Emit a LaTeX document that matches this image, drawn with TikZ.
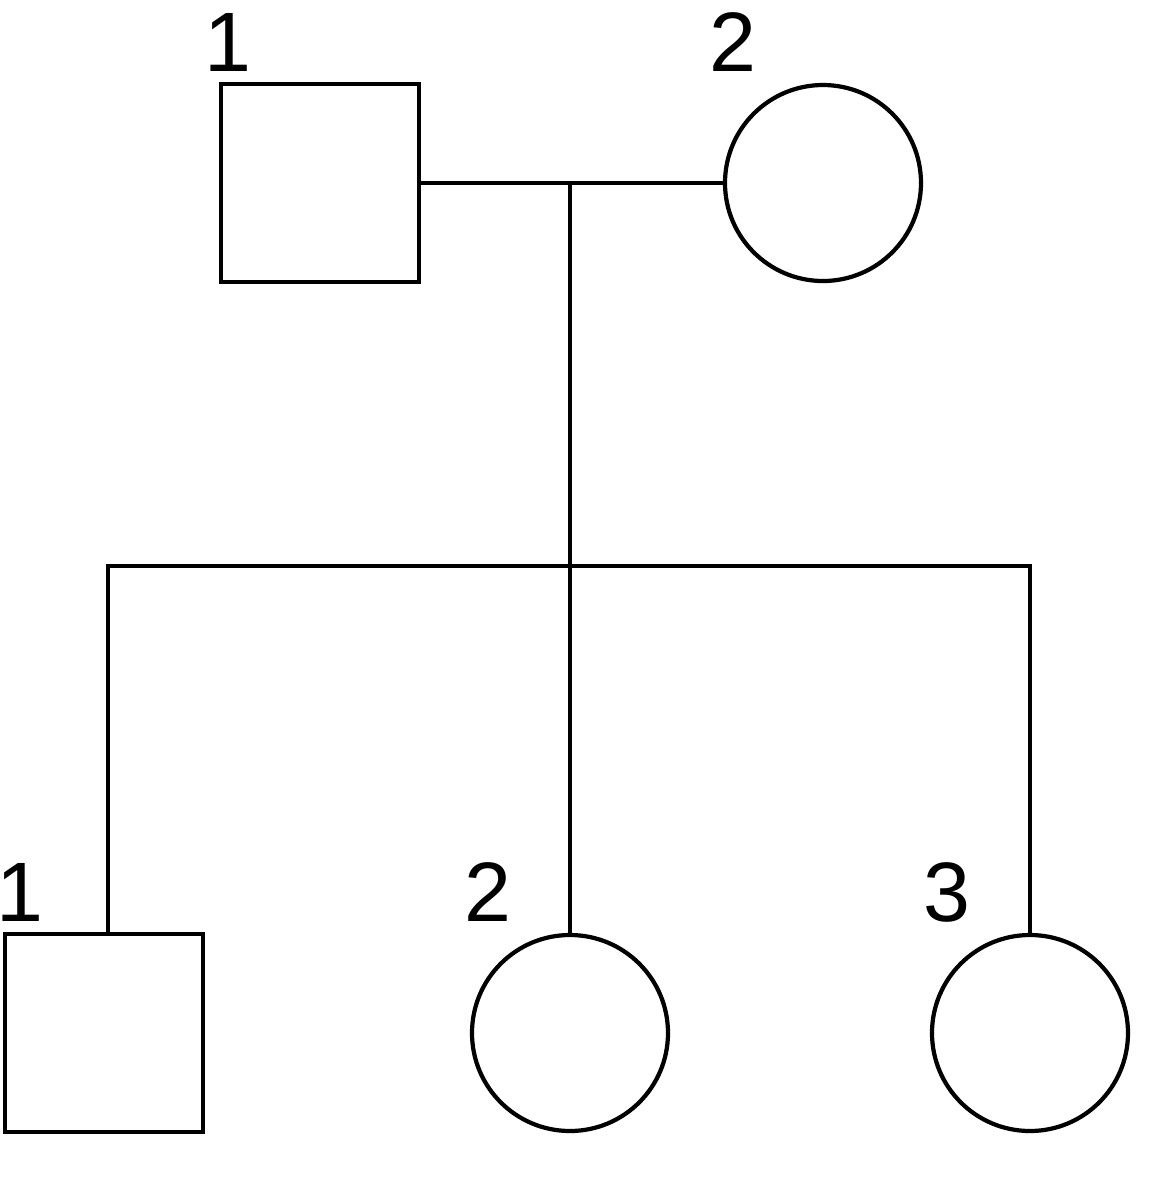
\documentclass[tikz,border=0pt]{standalone}
\usepackage{fontspec}
\setmainfont{Liberation Sans}
\usetikzlibrary{positioning}

\begin{document}
\begin{tikzpicture}[
    line width=1.2pt,
    male/.style={draw, rectangle, minimum size=1.98cm, inner sep=0pt},
    female/.style={draw, circle, minimum size=1.96cm, inner sep=0pt},
    num/.style={font=\fontsize{24}{24}\selectfont, inner sep=0pt}
  ]
  \useasboundingbox (0, 0) rectangle (11.64, -12);

  % parents
  \node[male] (father) at (3.20, -1.83) {};
  \node[female] (mother) at (8.23, -1.83) {};

  % children
  \node[male] (son) at (1.04, -10.33) {};
  \node[female] (daughterA) at (5.70, -10.33) {};
  \node[female] (daughterB) at (10.30, -10.33) {};

  % numbers
  \node[num] (nfather) at (2.28, -0.42) {1};
  \node[num] (nmother) at (7.33, -0.42) {2};
  \node[num] (nson) at (0.20, -8.92) {1};
  \node[num] (ndaughterA) at (4.88, -8.92) {2};
  \node[num] (ndaughterB) at (9.47, -8.92) {3};

  % lines
  \coordinate (couple) at (5.70, -1.83);
  \coordinate (sibs) at (5.70, -5.66);
  \draw (father.east) -- (mother.west);
  \draw (couple) -- (sibs);
  \draw ([xshift=0.04cm]son.north) |- (sibs) -| (daughterB.north);
  \draw (sibs) -- (daughterA.north);
\end{tikzpicture}
\end{document}
